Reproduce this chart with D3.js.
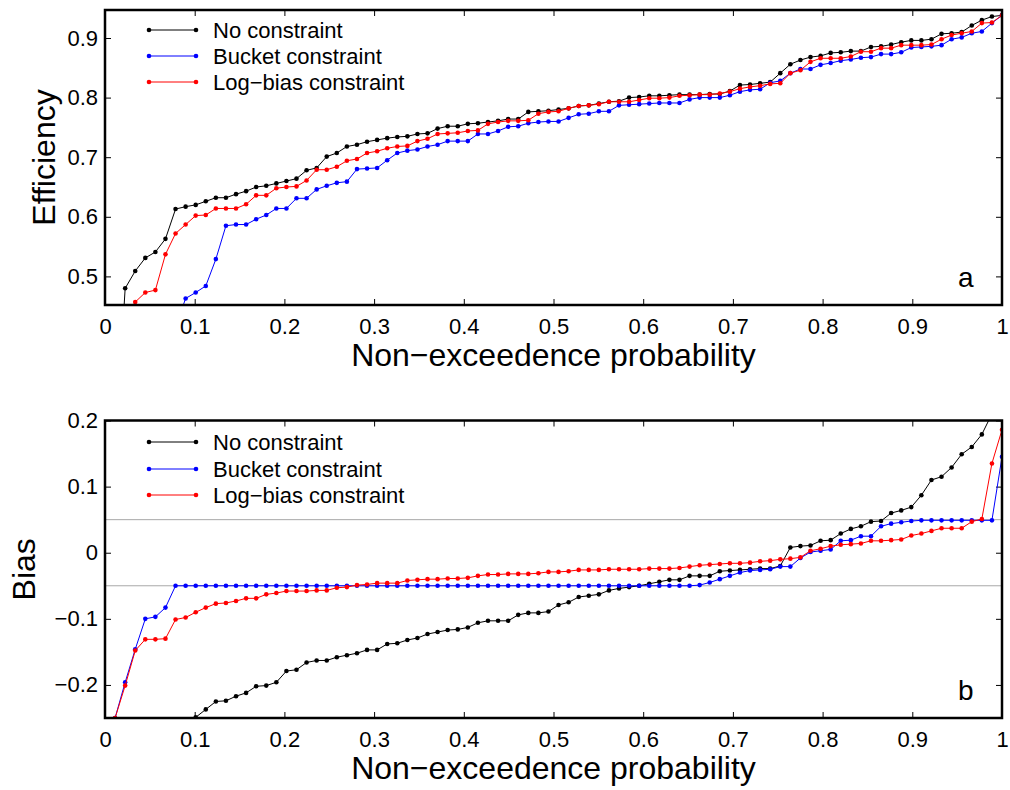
<!DOCTYPE html>
<html>
<head>
<meta charset="utf-8">
<script src="https://cdn.jsdelivr.net/npm/d3@7"></script>
<style>
  html, body { margin: 0; padding: 0; background: #fff; }
  svg { display: block; font-family: "Liberation Sans", Arial, Helvetica, sans-serif; }
</style>
</head>
<body>
<svg id="chart" width="1010" height="790"></svg>
<script>
// ---------------- data ----------------
const nPoints = 89;
const prob = d3.range(1, nPoints + 1).map(i => i / nPoints); // non-exceedence probability (plotting positions)

const seriesNames = ["No constraint", "Bucket constraint", "Log\u2212bias constraint"];
const seriesColors = ["#000000", "#0000ff", "#ff0000"];

const xTicks = [0, 0.1, 0.2, 0.3, 0.4, 0.5, 0.6, 0.7, 0.8, 0.9, 1];
const effTicks = [0.5, 0.6, 0.7, 0.8, 0.9];
const biasTicks = [-0.2, -0.1, 0, 0.1, 0.2];
const biasRefLines = [-0.05, 0.05];

// Panel a: efficiency
const effNone = [
  0.200, 0.480, 0.509, 0.531, 0.541, 0.563, 0.613, 0.617, 0.620, 0.626,
  0.632, 0.632, 0.638, 0.643, 0.650, 0.652, 0.656, 0.660, 0.664, 0.678,
  0.682, 0.701, 0.707, 0.718, 0.721, 0.726, 0.729, 0.732, 0.734, 0.735,
  0.739, 0.740, 0.748, 0.752, 0.752, 0.756, 0.757, 0.759, 0.761, 0.764,
  0.764, 0.776, 0.777, 0.778, 0.780, 0.782, 0.786, 0.787, 0.790, 0.793,
  0.794, 0.800, 0.801, 0.803, 0.803, 0.804, 0.805, 0.805, 0.805, 0.806,
  0.806, 0.811, 0.821, 0.822, 0.824, 0.826, 0.841, 0.856, 0.863, 0.868,
  0.870, 0.875, 0.876, 0.878, 0.878, 0.885, 0.886, 0.889, 0.893, 0.896,
  0.896, 0.898, 0.907, 0.908, 0.910, 0.921, 0.930, 0.936, 0.938
];
const effBucket = [
  0.100, 0.150, 0.200, 0.250, 0.300, 0.360, 0.415, 0.463, 0.473, 0.484,
  0.529, 0.585, 0.587, 0.587, 0.596, 0.603, 0.614, 0.614, 0.631, 0.631,
  0.646, 0.652, 0.657, 0.659, 0.680, 0.681, 0.682, 0.695, 0.707, 0.711,
  0.713, 0.718, 0.721, 0.727, 0.727, 0.727, 0.739, 0.739, 0.744, 0.751,
  0.752, 0.757, 0.759, 0.760, 0.760, 0.766, 0.772, 0.773, 0.777, 0.777,
  0.787, 0.788, 0.789, 0.790, 0.791, 0.791, 0.791, 0.797, 0.800, 0.800,
  0.800, 0.804, 0.810, 0.813, 0.814, 0.825, 0.828, 0.841, 0.848, 0.848,
  0.855, 0.858, 0.862, 0.864, 0.867, 0.868, 0.873, 0.873, 0.876, 0.884,
  0.885, 0.886, 0.888, 0.898, 0.901, 0.908, 0.911, 0.925, 0.938
];
const effLogBias = [
  0.200, 0.430, 0.457, 0.473, 0.477, 0.537, 0.572, 0.587, 0.602, 0.603,
  0.614, 0.614, 0.614, 0.621, 0.636, 0.636, 0.648, 0.650, 0.651, 0.661,
  0.679, 0.679, 0.684, 0.694, 0.697, 0.707, 0.710, 0.715, 0.718, 0.719,
  0.727, 0.731, 0.739, 0.740, 0.741, 0.744, 0.745, 0.756, 0.759, 0.761,
  0.761, 0.762, 0.773, 0.776, 0.777, 0.782, 0.786, 0.787, 0.789, 0.793,
  0.793, 0.793, 0.796, 0.799, 0.799, 0.800, 0.803, 0.804, 0.805, 0.805,
  0.807, 0.810, 0.815, 0.818, 0.820, 0.823, 0.824, 0.841, 0.846, 0.860,
  0.866, 0.866, 0.866, 0.869, 0.877, 0.877, 0.883, 0.883, 0.888, 0.888,
  0.888, 0.889, 0.898, 0.905, 0.908, 0.911, 0.925, 0.926, 0.938
];

// Panel b: bias
const biasNone = [
  -0.550, -0.480, -0.420, -0.380, -0.340, -0.300, -0.270, -0.252, -0.249, -0.237,
  -0.225, -0.224, -0.217, -0.212, -0.202, -0.201, -0.196, -0.179, -0.177, -0.166,
  -0.163, -0.163, -0.158, -0.155, -0.152, -0.147, -0.147, -0.138, -0.137, -0.132,
  -0.129, -0.123, -0.120, -0.117, -0.116, -0.113, -0.106, -0.103, -0.103, -0.103,
  -0.094, -0.091, -0.091, -0.089, -0.079, -0.075, -0.067, -0.065, -0.063, -0.057,
  -0.054, -0.052, -0.050, -0.047, -0.044, -0.041, -0.041, -0.035, -0.035, -0.035,
  -0.028, -0.027, -0.026, -0.025, -0.024, -0.024, -0.020, 0.008, 0.010, 0.011,
  0.018, 0.019, 0.029, 0.036, 0.040, 0.047, 0.048, 0.060, 0.064, 0.069,
  0.087, 0.110, 0.115, 0.129, 0.149, 0.160, 0.179, 0.210, 0.260
];
const biasBucket = [
  -0.250, -0.196, -0.146, -0.100, -0.097, -0.083, -0.050, -0.050, -0.050, -0.050,
  -0.050, -0.050, -0.050, -0.050, -0.050, -0.050, -0.050, -0.050, -0.050, -0.050,
  -0.050, -0.050, -0.050, -0.050, -0.050, -0.050, -0.050, -0.050, -0.050, -0.050,
  -0.050, -0.050, -0.050, -0.050, -0.050, -0.050, -0.050, -0.050, -0.050, -0.050,
  -0.050, -0.050, -0.050, -0.050, -0.050, -0.050, -0.050, -0.050, -0.050, -0.050,
  -0.050, -0.050, -0.050, -0.050, -0.050, -0.050, -0.050, -0.050, -0.049, -0.045,
  -0.040, -0.035, -0.030, -0.027, -0.026, -0.025, -0.021, -0.021, -0.008, 0.001,
  0.003, 0.005, 0.018, 0.019, 0.025, 0.025, 0.040, 0.044, 0.046, 0.048,
  0.049, 0.049, 0.049, 0.049, 0.049, 0.049, 0.049, 0.049, 0.145
];
const biasLogBias = [
  -0.250, -0.201, -0.148, -0.131, -0.131, -0.130, -0.101, -0.098, -0.090, -0.083,
  -0.077, -0.076, -0.073, -0.069, -0.069, -0.063, -0.061, -0.058, -0.058, -0.058,
  -0.057, -0.057, -0.053, -0.052, -0.049, -0.048, -0.046, -0.046, -0.046, -0.042,
  -0.041, -0.040, -0.040, -0.039, -0.039, -0.038, -0.035, -0.033, -0.033, -0.032,
  -0.032, -0.032, -0.031, -0.029, -0.029, -0.028, -0.026, -0.026, -0.026, -0.025,
  -0.025, -0.025, -0.025, -0.024, -0.024, -0.024, -0.023, -0.021, -0.019, -0.018,
  -0.017, -0.016, -0.016, -0.015, -0.013, -0.012, -0.010, -0.009, -0.007, 0.003,
  0.006, 0.010, 0.012, 0.013, 0.014, 0.018, 0.018, 0.019, 0.020, 0.026,
  0.029, 0.033, 0.037, 0.037, 0.037, 0.047, 0.051, 0.135, 0.186
];

// ---------------- drawing ----------------
const svg = d3.select("#chart");
const FONT_TICK = 22, FONT_TITLE = 32, FONT_LEG = 22;

const x = d3.scaleLinear().domain([0, 1]).range([105, 1002]);

const panels = [
  {
    id: "a", top: 10, bottom: 305, domain: [0.452, 0.947], ticks: effTicks,
    fmt: d => d3.format(".1f")(d),
    series: [effNone, effBucket, effLogBias],
    ylabel: "Efficiency", ylabelX: 55,
    xlabelY: 366, letter: "a", letterY: 287, legendY: [30, 56, 82], refs: []
  },
  {
    id: "b", top: 420.5, bottom: 718, domain: [-0.25, 0.2], ticks: biasTicks,
    fmt: d => d === 0 ? "0" : d3.format(".1f")(d).replace("-", "\u2212"),
    series: [biasNone, biasBucket, biasLogBias],
    ylabel: "Bias", ylabelX: 35,
    xlabelY: 779, letter: "b", letterY: 700, legendY: [442, 469, 495], refs: biasRefLines
  }
];

panels.forEach(p => {
  const y = d3.scaleLinear().domain(p.domain).range([p.bottom, p.top]);
  const g = svg.append("g");

  g.append("clipPath").attr("id", "clip-" + p.id)
    .append("rect").attr("x", x(0)).attr("y", p.top)
    .attr("width", x(1) - x(0)).attr("height", p.bottom - p.top);

  // reference lines
  g.selectAll("line.ref").data(p.refs).enter().append("line")
    .attr("class", "ref")
    .attr("x1", x(0)).attr("x2", x(1))
    .attr("y1", d => y(d)).attr("y2", d => y(d))
    .attr("stroke", "#a8a8a8").attr("stroke-width", 1);

  // axes (ticks inward on all four sides)
  const bottomAxis = d3.axisBottom(x).tickValues(xTicks).tickSize(-6).tickPadding(13)
    .tickFormat(d => d3.format("~g")(d));
  const topAxis = d3.axisTop(x).tickValues(xTicks).tickSize(-6).tickFormat("");
  const leftAxis = d3.axisLeft(y).tickValues(p.ticks).tickSize(-6).tickPadding(7).tickFormat(p.fmt);
  const rightAxis = d3.axisRight(y).tickValues(p.ticks).tickSize(-6).tickFormat("");

  const ax = [
    g.append("g").attr("transform", `translate(0,${p.bottom})`).call(bottomAxis),
    g.append("g").attr("transform", `translate(0,${p.top})`).call(topAxis),
    g.append("g").attr("transform", `translate(${x(0)},0)`).call(leftAxis),
    g.append("g").attr("transform", `translate(${x(1)},0)`).call(rightAxis)
  ];
  ax.forEach(a => {
    a.select(".domain").remove();
    a.selectAll("text").attr("font-size", FONT_TICK).attr("fill", "#000")
      .attr("font-family", "'Liberation Sans', Arial, sans-serif");
    a.selectAll("line").attr("stroke", "#000").attr("stroke-width", 1);
  });

  // data
  const plot = g.append("g").attr("clip-path", `url(#clip-${p.id})`);
  const line = d3.line().x((d, i) => x(prob[i])).y(d => y(d));
  p.series.forEach((vals, si) => {
    plot.append("path").datum(vals)
      .attr("d", line).attr("fill", "none")
      .attr("stroke", seriesColors[si]).attr("stroke-width", 1);
    plot.selectAll(null).data(vals).enter().append("circle")
      .attr("cx", (d, i) => x(prob[i])).attr("cy", d => y(d))
      .attr("r", 2.3).attr("fill", seriesColors[si]);
  });

  // frame
  g.append("rect").attr("x", x(0)).attr("y", p.top)
    .attr("width", x(1) - x(0)).attr("height", p.bottom - p.top)
    .attr("fill", "none").attr("stroke", "#000").attr("stroke-width", 2.5);

  // legend
  seriesNames.forEach((name, si) => {
    const ly = p.legendY[si];
    const lg = g.append("g");
    lg.append("line").attr("x1", 149).attr("x2", 196).attr("y1", ly).attr("y2", ly)
      .attr("stroke", seriesColors[si]).attr("stroke-width", 1);
    [149, 196].forEach(cx => lg.append("circle").attr("cx", cx).attr("cy", ly)
      .attr("r", 2.3).attr("fill", seriesColors[si]));
    lg.append("text").attr("x", 213).attr("y", ly + 8)
      .attr("font-size", FONT_LEG).text(name);
  });

  // axis titles
  g.append("text").attr("x", (x(0) + x(1)) / 2).attr("y", p.xlabelY)
    .attr("text-anchor", "middle").attr("font-size", FONT_TITLE)
    .text("Non\u2212exceedence probability");
  g.append("text")
    .attr("transform", `translate(${p.ylabelX},${(p.top + p.bottom) / 2}) rotate(-90)`)
    .attr("text-anchor", "middle").attr("font-size", FONT_TITLE)
    .text(p.ylabel);

  // panel letter
  g.append("text").attr("x", 958).attr("y", p.letterY)
    .attr("font-size", 28).text(p.letter);
});
</script>
</body>
</html>
